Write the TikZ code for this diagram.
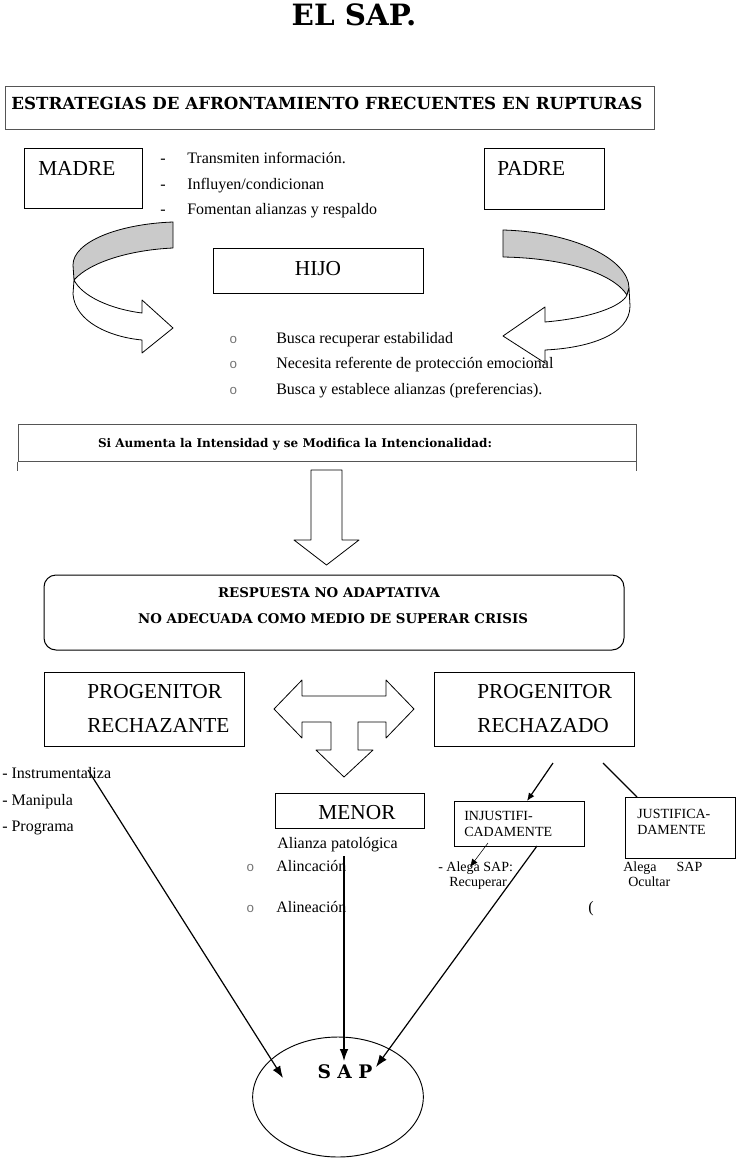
\documentclass[tikz,border=0pt]{standalone}
\usepackage{fontspec}
\setmainfont{Liberation Serif}
\newfontfamily\heavyfont{DejaVu Serif}
\newfontfamily\bulletfont{Liberation Mono}
\usetikzlibrary{arrows.meta, shapes.geometric, fit}
\definecolor{RibbonGray}{HTML}{CACACA}
\definecolor{FrameGray}{HTML}{555555}
\tikzset{
  box/.style={draw, line width=0.75pt, inner sep=0pt},
  txtbody/.style={inner sep=0pt, anchor=base west, font=\fontsize{12}{14}\selectfont},
  txtbig/.style={inner sep=0pt, anchor=base west, font=\fontsize{16}{19}\selectfont},
  txtsmall/.style={inner sep=0pt, anchor=base west, font=\fontsize{10.5}{12}\selectfont},
  bulletmark/.style={inner sep=0pt, anchor=base west, font=\bulletfont\fontsize{10}{11}\selectfont, text=black!55},
  ribbon/.style={draw, line width=0.6pt, line join=round},
  link/.style={line width=0.9pt, -{Latex[length=9pt,width=6.5pt]}},
}
\begin{document}
\begin{tikzpicture}[x=0.75pt, y=-0.75pt]
\useasboundingbox (0,0) rectangle (745,1163);

\node[inner sep=0pt, anchor=base, font=\heavyfont\bfseries\fontsize{22}{26}\selectfont] (title) at (354,26) {EL SAP.};

\node[box, draw=FrameGray, fit={(5,87) (654,129)}] (head) {};
\node[inner sep=0pt, anchor=base, font=\heavyfont\bfseries\fontsize{12.5}{15}\selectfont] (headtxt) at (327,109.5) {ESTRATEGIAS DE AFRONTAMIENTO FRECUENTES EN RUPTURAS};

% padres
\node[box, fit={(24,148) (142,208)}] (madre) {};
\node[txtbig] (madretxt) at (38,175) {MADRE};
\node[box, fit={(484,148) (604,209)}] (padre) {};
\node[txtbig] (padretxt) at (497,175) {PADRE};
\foreach \yy/\txt in {163/{Transmiten información.}, 189/{Influyen/condicionan}, 214/{Fomentan alianzas y respaldo}} {
  \node[txtbody] (dash\yy) at (160,\yy) {-};
  \node[txtbody] (item\yy) at (187,\yy) {\txt};
}

% flechas curvas
\filldraw[ribbon, fill=RibbonGray] (173,222) .. controls (118,224) and (73,242) .. (73,265) -- (74,280) .. controls (90,262) and (130,250) .. (173,248) -- cycle;
\filldraw[ribbon, fill=white] (74,280) -- (73,294) .. controls (75,322) and (110,337) .. (142,340) -- (142,353) -- (173,328) -- (142,300) -- (142,313) .. controls (110,309) and (82,296) .. (74,280) -- cycle;
\filldraw[ribbon, fill=RibbonGray] (503,230) .. controls (575,232) and (629,260) .. (629,288) -- (627,295) .. controls (612,272) and (562,258) .. (503,257) -- cycle;
\filldraw[ribbon, fill=white] (629,288) -- (630,306) .. controls (630,335) and (588,348) .. (545,350) -- (545,363) -- (503,336) -- (545,307) -- (545,322) .. controls (592,318) and (622,306) .. (627,295) -- cycle;

\node[box, fit={(213,248) (423,293)}] (hijo) {};
\node[txtbig, anchor=base] (hijotxt) at (318,275) {HIJO};
\foreach \yy/\txt in {343/{Busca recuperar estabilidad}, 368/{Necesita referente de protección emocional}, 394/{Busca y establece alianzas (preferencias).}} {
  \node[bulletmark] (mark\yy) at (229,\yy) {o};
  \node[txtbody] (need\yy) at (276,\yy) {\txt};
}

% intensidad
\node[box, draw=FrameGray, fit={(18,424) (636,461)}] (cond) {};
\draw[FrameGray, line width=0.75pt] (cond.south west) -- ++(0,9);
\draw[FrameGray, line width=0.75pt] (cond.south east) -- ++(0,9);
\node[inner sep=0pt, anchor=base, font=\heavyfont\bfseries\fontsize{9}{11}\selectfont] (condtxt) at (295,447) {Si Aumenta la Intensidad y se Modifica la Intencionalidad:};
\draw[ribbon, fill=white] (311,470) -- (342,470) -- (342,540) -- (359,540) -- (326.5,565) -- (294,540) -- (311,540) -- cycle;

\node[box, rounded corners=9pt, fit={(44,575) (624,650)}] (resp) {};
\node[inner sep=0pt, anchor=base, font=\heavyfont\bfseries\fontsize{10}{12}\selectfont] (resptxt) at (329,597) {RESPUESTA NO ADAPTATIVA};
\node[inner sep=0pt, anchor=base, font=\heavyfont\bfseries\fontsize{10}{12}\selectfont] (resptxtb) at (333,623) {NO ADECUADA COMO MEDIO DE SUPERAR CRISIS};

% progenitores
\node[box, fit={(44,672) (244,746)}] (rechazante) {};
\node[txtbig] (rzte) at (87,698) {PROGENITOR};
\node[txtbig] (rzteb) at (87,732) {RECHAZANTE};
\node[box, fit={(434,672) (634,746)}] (rechazado) {};
\node[txtbig] (rzdo) at (477,698) {PROGENITOR};
\node[txtbig] (rzdob) at (477,732) {RECHAZADO};
\draw[ribbon, fill=white] (274,709) -- (302,680) -- (302,696) -- (386,696) -- (386,680) -- (414,709) -- (386,738) -- (386,722) -- (358,722) -- (358,750) -- (373,750) -- (344,777) -- (316,750) -- (331,750) -- (331,722) -- (302,722) -- (302,738) -- cycle;

\foreach \yy/\txt in {778/Instrumentaliza, 805/Manipula, 831/Programa} {
  \node[txtbody] (tool\yy) at (2,\yy) {- \txt};
}

\node[box, fit={(275,793) (424,828)}] (menor) {};
\node[txtbig, anchor=base] (menortxt) at (357,819) {MENOR};
\node[txtbody] (alianza) at (277,848) {Alianza patológica};
\node[bulletmark] (markA) at (246,871) {o};
\node[txtbody] (alinA) at (276,871) {Alincación};
\node[bulletmark] (markB) at (246,912) {o};
\node[txtbody] (alinB) at (276,912) {Alineación};

\node[box, fit={(454,801) (584,846)}] (injust) {};
\node[txtsmall] (injtxt) at (464,820) {INJUSTIFI-};
\node[txtsmall] (injtxtb) at (464,836) {CADAMENTE};
\node[box, fit={(625,797) (735,858)}] (just) {};
\node[txtsmall] (justxt) at (637,818) {JUSTIFICA-};
\node[txtsmall] (justxtb) at (637,834) {DAMENTE};
\node[txtsmall] (alegaA) at (438,871) {- Alega SAP:};
\node[txtsmall] (recup) at (449,886) {Recuperar};
\node[txtsmall] (alegaB) at (623,871) {Alega\hskip 15pt SAP};
\node[txtsmall] (ocult) at (628,886) {Ocultar};
\node[txtbody] (paren) at (588,912) {(};

% SAP
\node[draw, ellipse, line width=0.7pt, minimum width=128pt, minimum height=90pt] (sap) at (338,1097) {};
\node[inner sep=0pt, anchor=base, font=\heavyfont\bfseries\fontsize{14}{16}\selectfont] (saptxt) at (345,1078) {S A P};

\coordinate (instr) at (88,770);
\coordinate (sapleft) at (283,1078);
\coordinate (alin) at (344,856);
\coordinate (saptop) at (344,1061);
\coordinate (injbot) at (537,846);
\coordinate (sapright) at (376,1067);
\coordinate (rzdL) at (553,763);
\coordinate (injtop) at (527,801);
\coordinate (rzdR) at (603,763);
\coordinate (justop) at (637,797);
\coordinate (injin) at (488,843);
\coordinate (alegapt) at (470,867);
\draw[link] (instr) -- (sapleft);
\draw[link] (alin) -- (saptop);
\draw[link] (injbot) -- (sapright);
\draw[line width=0.9pt, -{Latex[length=6pt,width=5pt]}] (rzdL) -- (injtop);
\draw[line width=0.9pt] (rzdR) -- (justop);
\draw[line width=0.4pt, -{Latex[length=6pt,width=5pt]}] (injin) -- (alegapt);
\end{tikzpicture}
\end{document}
